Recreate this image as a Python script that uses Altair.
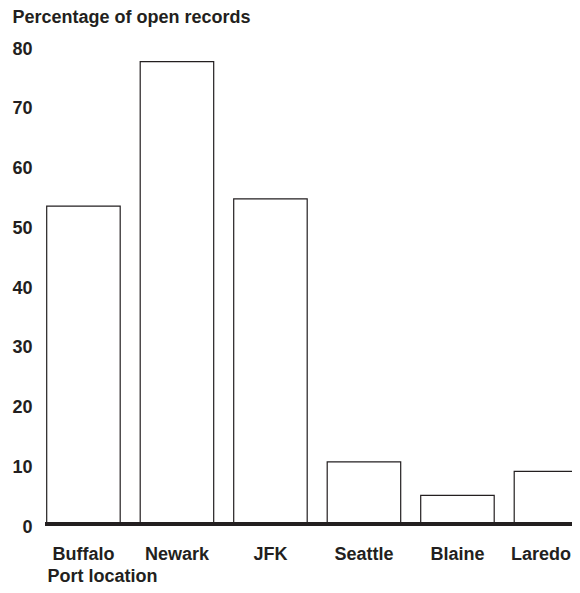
import altair as alt
import pandas as pd

ports = ["Buffalo", "Newark", "JFK", "Seattle", "Blaine", "Laredo"]
pct_open = [53.2, 77.4, 54.4, 10.4, 4.8, 8.8]
y_ticks = [0, 10, 20, 30, 40, 50, 60, 70, 80]

df = pd.DataFrame({"port": ports, "pct": pct_open})
base_df = pd.DataFrame({"pct": [0]})

FONT = "Liberation Sans"
INK = "#231f20"

yscale = alt.Scale(domain=[0, 80], nice=False, zero=True)

bars = alt.Chart(df).mark_bar(fill="white", stroke=INK, strokeWidth=1.2).encode(
    x=alt.X(
        "port:N",
        sort=ports,
        scale=alt.Scale(
            range=[-78.3, 542.7],
            paddingInner=0.214,
            paddingOuter=0.4278,
            align=1,
        ),
        axis=alt.Axis(
            title="Port location",
            labelAngle=0,
            labelPadding=21,
            labelFlush=75,
            labelFlushOffset=20,
            labelFont=FONT,
            labelFontSize=18,
            labelFontWeight="bold",
            labelColor=INK,
            domain=False,
            ticks=False,
            grid=False,
            titleFont=FONT,
            titleFontSize=18,
            titleFontWeight="bold",
            titleColor=INK,
            titleAlign="left",
            titleBaseline="alphabetic",
            titleX=2,
            titleY=57,
        ),
    ),
    y=alt.Y(
        "pct:Q",
        scale=yscale,
        axis=alt.Axis(
            title="Percentage of open records",
            values=y_ticks,
            labelPadding=13,
            labelOffset=3,
            labelAlign="right",
            labelBaseline="middle",
            labelFont=FONT,
            labelFontSize=18,
            labelFontWeight="bold",
            labelColor=INK,
            domain=False,
            ticks=False,
            grid=False,
            titleFont=FONT,
            titleFontSize=18,
            titleFontWeight="bold",
            titleColor=INK,
            titleAngle=0,
            titleAlign="left",
            titleBaseline="alphabetic",
            titleX=-33,
            titleY=-24,
        ),
    ),
)

baseline = alt.Chart(base_df).mark_rule(color=INK, strokeWidth=4).encode(
    y=alt.Y("pct:Q", scale=yscale)
)

chart = (
    alt.layer(bars, baseline)
    .properties(
        width=527,
        height=478,
        padding={"left": 37, "top": 38, "right": 0, "bottom": 61},
        autosize=alt.AutoSizeParams(type="none"),
        background="white",
    )
    .configure_view(stroke=None)
)

chart.save("out.html", embed_options={"renderer": "svg", "actions": False})
